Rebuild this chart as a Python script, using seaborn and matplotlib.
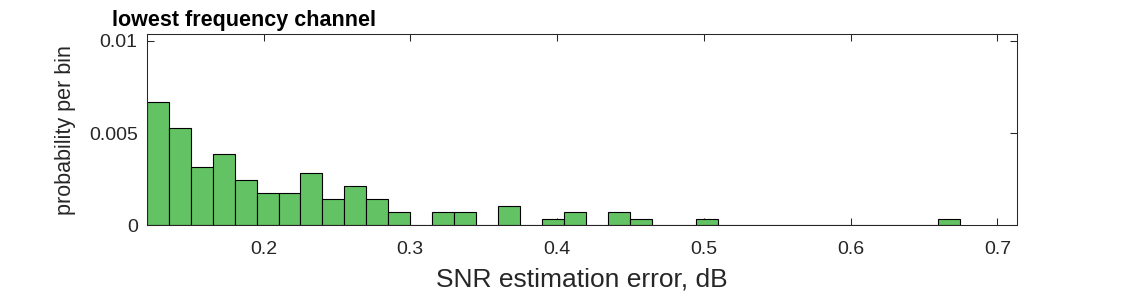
import numpy as np
import pandas as pd
import matplotlib
matplotlib.use("Agg")
import matplotlib.pyplot as plt
import seaborn as sns

# histogram (probability per bin, non-empty bins only)
bin_start = 0.1204
bin_width = 0.01497
n_bins = 37
bin_centers = [0.1279, 0.1429, 0.1578, 0.1728, 0.1877, 0.2027, 0.2177, 0.2326,
               0.2476, 0.2626, 0.2775, 0.2925, 0.3224, 0.3374, 0.3673, 0.3973,
               0.4122, 0.4422, 0.4571, 0.5020, 0.6667]
probabilities = [0.00669, 0.00528, 0.00317, 0.00387, 0.00246, 0.00176, 0.00176, 0.00282,
                 0.00141, 0.00211, 0.00141, 0.00070, 0.00070, 0.00070, 0.00106, 0.00035,
                 0.00070, 0.00070, 0.00035, 0.00035, 0.00035]

x_ticks = [0.2, 0.3, 0.4, 0.5, 0.6, 0.7]
x_labels = ["0.2", "0.3", "0.4", "0.5", "0.6", "0.7"]
y_ticks = [0, 0.005, 0.01]
y_labels = ["0", "0.005", "0.01"]

sns.set_style("ticks")
plt.rcParams["font.family"] = ["Liberation Sans", "DejaVu Sans"]

fig = plt.figure(figsize=(11.25, 2.94), dpi=100)
ax = fig.add_axes([0.1304, 0.2337, 0.7739, 0.6507])

df = pd.DataFrame({"err": bin_centers, "p": probabilities})
edges = [bin_start + bin_width * i for i in range(n_bins + 1)]
sns.histplot(data=df, x="err", weights="p", bins=edges, stat="count",
             color="#63c263", edgecolor="black", linewidth=0.8, alpha=1, ax=ax)

ax.set_xlim(0.1204, 0.7136)
ax.set_ylim(0, 0.01038)
ax.set_xticks(x_ticks, x_labels)
ax.set_yticks(y_ticks, y_labels)
ax.tick_params(direction="in", top=True, right=True, length=5.3, width=0.75,
               colors="#262626", labelsize=14)
ax.tick_params(axis="x", pad=11)
ax.tick_params(axis="y", pad=6.5)
for spine in ax.spines.values():
    spine.set_visible(True)
    spine.set_linewidth(0.75)
    spine.set_color("#262626")

ax.set_xlabel("SNR estimation error, dB", fontsize=19, color="#262626", va="baseline")
ax.xaxis.set_label_coords(0.5, -0.3225)
ax.set_ylabel("probability per bin", fontsize=15.5, color="#262626", va="baseline")
ax.yaxis.set_label_coords(-0.0875, 0.5)
fig.text(112 / 1125, 1 - 25.7 / 294, "lowest frequency channel", fontweight="bold",
         fontsize=15.5, color="black", ha="left", va="baseline")

fig.savefig("out.png", dpi=100)
